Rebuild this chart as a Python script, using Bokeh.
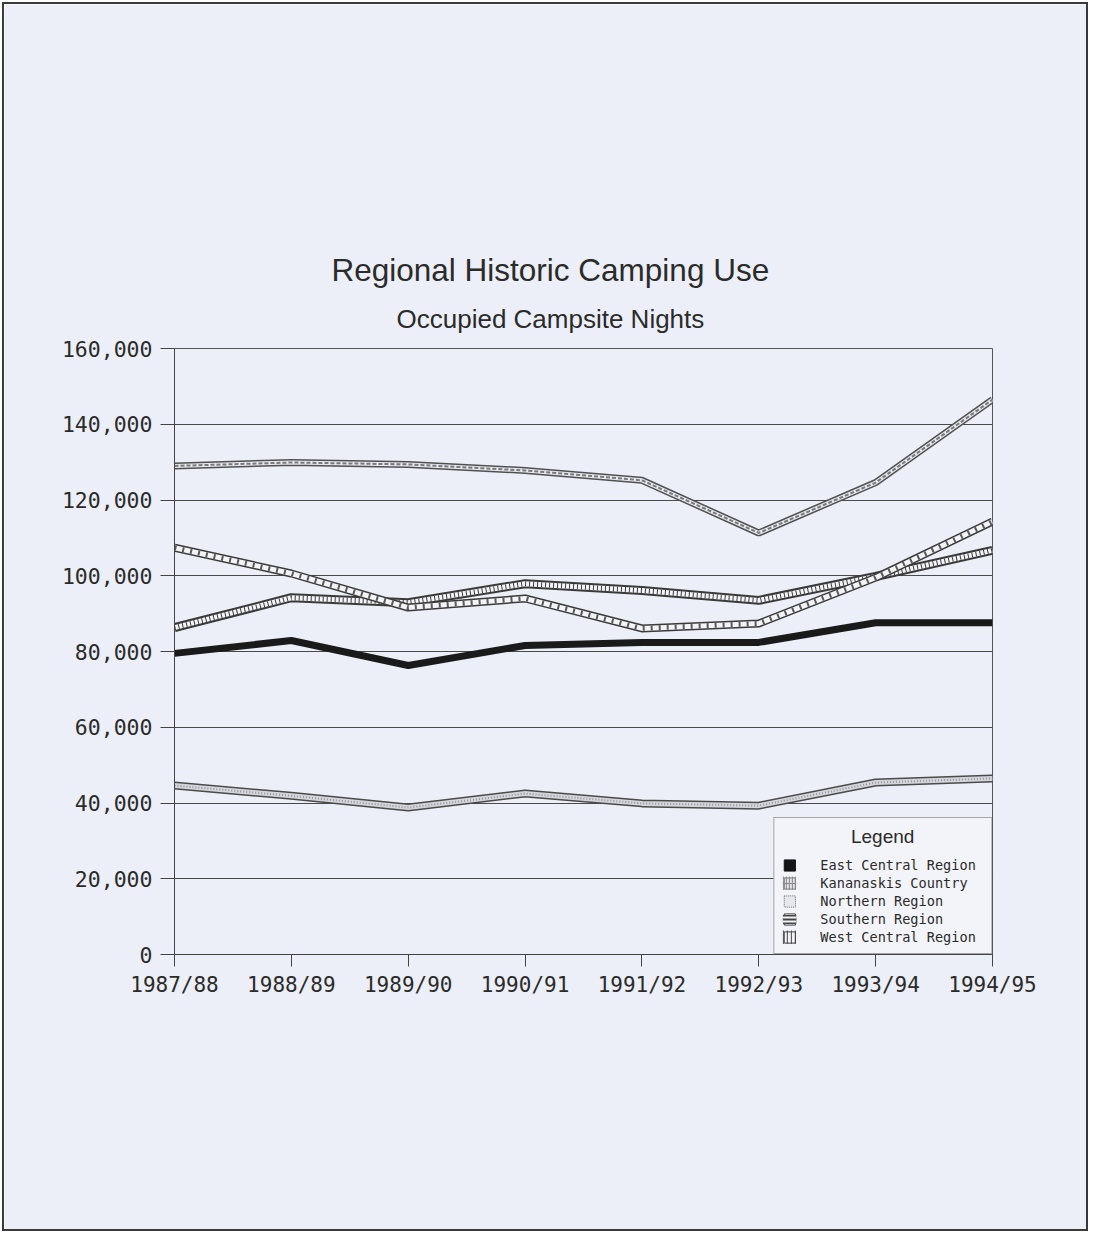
from bokeh.plotting import figure
from bokeh.models import (Range1d, FixedTicker, NumeralTickFormatter, Legend,
                          LegendItem, Title, ColumnDataSource)
from bokeh.embed import file_html
from bokeh.resources import INLINE

# ---- data ----
years = ["1987/88", "1988/89", "1989/90", "1990/91", "1991/92", "1992/93", "1993/94", "1994/95"]
east_central = [79500, 82900, 76300, 81600, 82400, 82400, 87600, 87600]
kananaskis = [129000, 129900, 129400, 127800, 125200, 111300, 124600, 146500]
northern = [44600, 41900, 38800, 42500, 39900, 39300, 45400, 46500]
southern = [107400, 100600, 91600, 94000, 86100, 87400, 99500, 114300]
west_central = [86300, 94200, 92900, 97900, 96100, 93500, 99800, 106700]
y_ticks = [0, 20000, 40000, 60000, 80000, 100000, 120000, 140000, 160000]

BG = "#eceff7"
DARK = "#2b2b2b"
MONO = "DejaVu Sans Mono"
SANS = "Liberation Sans"
NBSP = "\u00a0"

xs = list(range(len(years)))

p = figure(width=1086, height=1229, output_backend="svg", toolbar_location=None,
           x_range=Range1d(0, len(years) - 1), y_range=Range1d(0, 160000),
           min_border_left=170, min_border_right=98, min_border_top=344,
           min_border_bottom=279, background_fill_color=BG, border_fill_color=BG,
           styles={"border": "2px solid #3a3a3a", "margin": "2px"})
p.title.visible = False
p.outline_line_color = "#555555"
p.outline_line_width = 1

# axes
p.xaxis.ticker = FixedTicker(ticks=xs)
p.xaxis.major_label_overrides = {i: y for i, y in enumerate(years)}
p.yaxis.ticker = FixedTicker(ticks=y_ticks)
p.yaxis.formatter = NumeralTickFormatter(format="0,0")
for ax in (p.xaxis[0], p.yaxis[0]):
    ax.minor_tick_line_color = None
    ax.major_tick_in = 0
    ax.axis_line_color = "#444444"
    ax.major_tick_line_color = "#444444"
    ax.major_label_text_font = MONO
    ax.major_label_text_color = DARK
p.xaxis.major_label_text_font_size = "21px"
p.yaxis.major_label_text_font_size = "21.5px"
p.xaxis.major_tick_out = 12
p.xaxis.major_label_standoff = 6
p.yaxis.major_tick_out = 14
p.yaxis.major_label_standoff = 8
p.xgrid.grid_line_color = None
p.ygrid.ticker = FixedTicker(ticks=y_ticks)
p.ygrid.grid_line_color = "#4a4a4a"
p.ygrid.grid_line_width = 1

# titles (first added sits closest to the frame)
p.add_layout(Title(text="Occupied Campsite Nights", align="left", offset=222,
                   text_font=SANS, text_font_size="26px", text_font_style="normal",
                   text_color=DARK, standoff=29), "above")
p.add_layout(Title(text="Regional Historic Camping Use", align="left", offset=157,
                   text_font=SANS, text_font_size="31.5px", text_font_style="normal",
                   text_color=DARK, standoff=0), "above")

src = ColumnDataSource(dict(x=xs, ec=east_central, kc=kananaskis, nr=northern,
                            sr=southern, wc=west_central))

# Northern Region: double line with dotted grey fill
p.line("x", "nr", source=src, line_color="#4a4a4a", line_width=8)
p.line("x", "nr", source=src, line_color="#d3d5dc", line_width=5)
p.line("x", "nr", source=src, line_color="#9a9a9a", line_width=2, line_dash="1 2")

# West Central Region: beaded line (vertical bars)
p.line("x", "wc", source=src, line_color="#3a3a3a", line_width=9)
p.line("x", "wc", source=src, line_color="#f4f4f8", line_width=5)
p.line("x", "wc", source=src, line_color="#3a3a3a", line_width=5, line_dash="1 3")

# Southern Region: striped line
p.line("x", "sr", source=src, line_color="#3a3a3a", line_width=8)
p.line("x", "sr", source=src, line_color="#f4f4f8", line_width=5)
p.line("x", "sr", source=src, line_color="#5a5a5a", line_width=5, line_dash="2 6")

# Kananaskis Country: double dashed line
p.line("x", "kc", source=src, line_color="#505050", line_width=7)
p.line("x", "kc", source=src, line_color="#e6e8f0", line_width=4)
p.line("x", "kc", source=src, line_color="#7a7a7a", line_width=2, line_dash="4 2")

# East Central Region: solid black
p.line("x", "ec", source=src, line_color="#1a1a1a", line_width=7)

# legend swatches: glyphs with a single NaN row, so they only appear in the legend
nan = float("nan")
sq = ColumnDataSource(dict(l=[nan], r=[nan], t=[nan], b=[nan]))
pt = ColumnDataSource(dict(x=[nan], y=[nan]))


def swatch(**kw):
    return p.quad(left="l", right="r", top="t", bottom="b", source=sq, **kw)


def stroke(**kw):
    return p.line("x", "y", source=pt, **kw)


sw_ec = [swatch(fill_color="#151515", line_color="#151515")]
sw_kc = [swatch(fill_color="#e2e3ea", line_color="#777777"),
         stroke(line_color="#888888", line_width=14, line_dash="1 2"),
         stroke(line_color="#888888", line_width=1)]
sw_nr = [swatch(fill_color="#e6e8ef", line_color="#666666", line_dash="1 1")]
sw_sr = [swatch(fill_color="#f4f4f8", line_color="#444444"),
         stroke(line_color="#444444", line_width=9),
         stroke(line_color="#f4f4f8", line_width=6),
         stroke(line_color="#444444", line_width=2)]
sw_wc = [swatch(fill_color="#f4f4f8", line_color="#444444"),
         stroke(line_color="#444444", line_width=14, line_dash="1 3")]

legend = Legend(items=[
    LegendItem(label="East Central Region", renderers=sw_ec),
    LegendItem(label="Kananaskis Country", renderers=sw_kc),
    LegendItem(label="Northern Region", renderers=sw_nr),
    LegendItem(label="Southern Region", renderers=sw_sr),
    LegendItem(label="West Central Region", renderers=sw_wc),
], location="bottom_right",
    title=NBSP * 13 + "Legend" + NBSP * 13,
    title_text_font=SANS, title_text_font_size="19px", title_text_font_style="normal",
    title_text_color=DARK, title_standoff=9, padding=8, margin=0, spacing=2,
    glyph_width=14, glyph_height=14, label_height=15, label_standoff=24,
    label_text_font=MONO, label_text_font_size="13.6px", label_text_color=DARK,
    border_line_color="#555555", border_line_width=1,
    background_fill_color="#f3f4f9", background_fill_alpha=1)
p.add_layout(legend)

open("out.html", "w").write(file_html(p, INLINE))
